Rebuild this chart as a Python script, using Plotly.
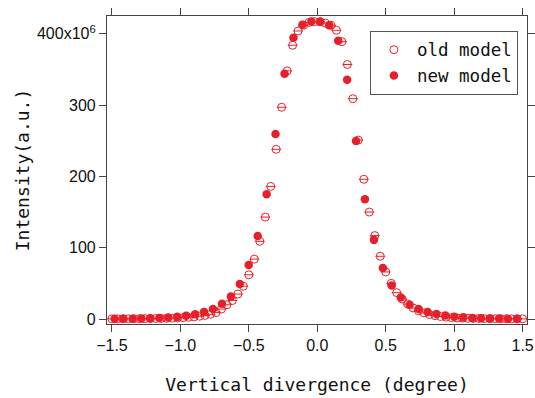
import plotly.graph_objects as go

# ---- data (intensity in units of 10^6) ----
old_x = [-1.50, -1.46, -1.42, -1.38, -1.34, -1.30, -1.26, -1.22, -1.18, -1.14,
         -1.10, -1.06, -1.02, -0.98, -0.94, -0.90, -0.86, -0.82, -0.78, -0.74,
         -0.70, -0.66, -0.62, -0.58, -0.54, -0.50, -0.46, -0.42, -0.38, -0.34,
         -0.30, -0.26, -0.22, -0.18, -0.14, -0.10, -0.06, -0.02, 0.02, 0.06,
         0.10, 0.14, 0.18, 0.22, 0.26, 0.30, 0.34, 0.38, 0.42, 0.46,
         0.50, 0.54, 0.58, 0.62, 0.66, 0.70, 0.74, 0.78, 0.82, 0.86,
         0.90, 0.94, 0.98, 1.02, 1.06, 1.10, 1.14, 1.18, 1.22, 1.26,
         1.30, 1.34, 1.38, 1.42, 1.46, 1.50]
old_y = [0.2, 0.2, 0.3, 0.3, 0.4, 0.4, 0.5, 0.6, 0.7, 0.8,
         1.0, 1.2, 1.5, 1.9, 2.4, 3.0, 3.9, 5.0, 6.6, 9.0,
         14.0, 20.0, 26.0, 35.0, 46.0, 62.0, 84.0, 109.0, 143.0, 186.0,
         238.0, 297.0, 348.0, 384.0, 404.0, 412.0, 416.0, 417.0, 417.0, 415.0,
         412.0, 405.0, 389.0, 357.0, 309.0, 251.0, 196.0, 150.0, 117.0, 88.0,
         66.0, 50.0, 37.0, 28.0, 21.0, 15.5, 11.5, 8.5, 6.3, 4.7,
         3.5, 2.6, 2.0, 1.5, 1.2, 1.0, 0.8, 0.7, 0.6, 0.5,
         0.4, 0.4, 0.3, 0.3, 0.2, 0.2]

new_x = [-1.480, -1.415, -1.349, -1.284, -1.219, -1.154, -1.088, -1.023, -0.958, -0.892,
         -0.827, -0.762, -0.696, -0.631, -0.566, -0.501, -0.435, -0.370, -0.305, -0.239,
         -0.174, -0.109, -0.043, 0.022, 0.087, 0.153, 0.218, 0.283, 0.348, 0.414,
         0.479, 0.544, 0.610, 0.675, 0.740, 0.806, 0.871, 0.936, 1.001, 1.067,
         1.132, 1.197, 1.263, 1.328, 1.393, 1.459]
new_y = [0.3, 0.4, 0.5, 0.7, 1.0, 1.4, 2.0, 3.0, 4.5, 6.8,
         10.0, 14.0, 21.5, 31.7, 49.0, 75.6, 116.5, 175.0, 259.5, 344.0,
         394.4, 412.6, 417.4, 417.0, 412.2, 390.2, 335.6, 249.7, 168.0, 111.0,
         71.4, 47.0, 30.3, 20.0, 14.0, 9.8, 7.0, 5.0, 3.2, 2.3,
         1.5, 1.1, 0.8, 0.6, 0.4, 0.3]

x_ticks = [-1.5, -1.0, -0.5, 0.0, 0.5, 1.0, 1.5]
x_ticktext = ["\u22121.5", "\u22121.0", "\u22120.5", "0.0", "0.5", "1.0", "1.5"]
y_ticks = [0, 100, 200, 300, 400]
y_ticktext = ["0", "100", "200", "300", "400x10<sup>6</sup>"]

RED = "#e6202a"
MONO = "DejaVu Sans Mono"
SANS = "Liberation Sans"

fig = go.Figure()
fig.add_trace(go.Scatter(
    x=old_x, y=old_y, mode="markers", name="old model",
    marker=dict(symbol="circle-open", size=8, color=RED, line=dict(width=1, color=RED)),
))
fig.add_trace(go.Scatter(
    x=old_x, y=old_y, mode="markers", showlegend=False, hoverinfo="skip",
    marker=dict(symbol="line-ew", size=7, color=RED, line=dict(width=1, color=RED)),
))
fig.add_trace(go.Scatter(
    x=new_x, y=new_y, mode="markers", name="new model",
    marker=dict(symbol="circle", size=8.5, color=RED, line=dict(width=0)),
))

axis_common = dict(
    showline=True, linecolor="#444", linewidth=1.2, mirror="ticks",
    ticks="outside", ticklen=7, tickwidth=1.2, tickcolor="#444",
    showgrid=False, zeroline=False, automargin=False,
    tickfont=dict(family=SANS, size=16, color="#111"),
)

fig.update_layout(
    width=535, height=398, autosize=False,
    margin=dict(l=107, r=8, t=16, b=74),
    paper_bgcolor="white", plot_bgcolor="white",
    xaxis=dict(range=[-1.536, 1.532], tickvals=x_ticks, ticktext=x_ticktext,
               title=dict(text="Vertical divergence (degree)",
                          font=dict(family=MONO, size=18, color="#111"), standoff=25),
               **axis_common),
    yaxis=dict(range=[-7, 425], tickvals=y_ticks, ticktext=y_ticktext,
               title=dict(text="Intensity(a.u.)",
                          font=dict(family=MONO, size=18, color="#111"), standoff=2),
               **axis_common),
    legend=dict(x=0.626, y=0.952, xanchor="left", yanchor="top",
                bgcolor="white", bordercolor="#555", borderwidth=1,
                font=dict(family=MONO, size=17.5, color="#111"),
                tracegroupgap=0, itemsizing="trace", itemwidth=36),
    showlegend=True,
)

fig.write_html("out.html", config={"displayModeBar": False},
               post_script="document.body.style.margin='0';")
